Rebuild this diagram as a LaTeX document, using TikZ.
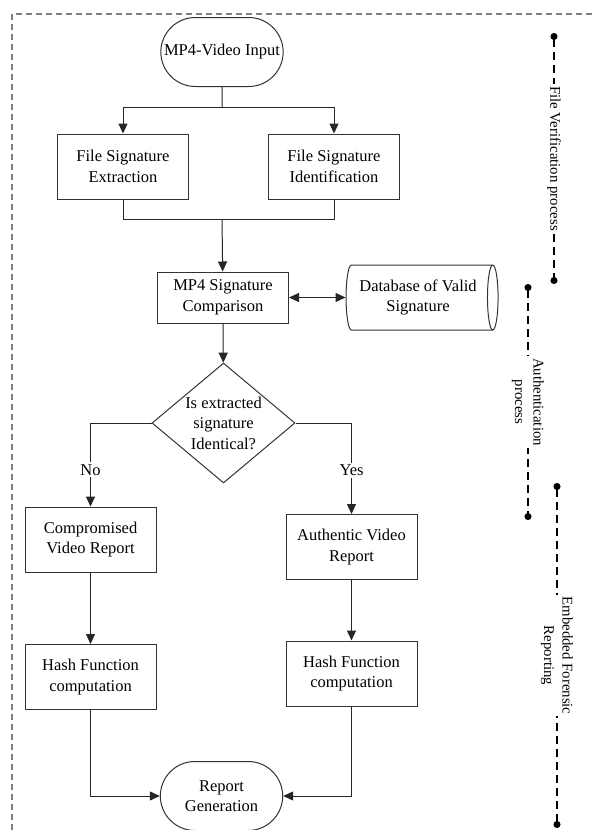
\documentclass[tikz,border=0pt]{standalone}
\usepackage{fontspec}
\setmainfont{Liberation Serif}
\usetikzlibrary{shapes,arrows.meta}

\begin{document}
\begin{tikzpicture}[x=1pt,y=-1pt]
				\tikzset{
					base/.style={draw=black!80, line width=1pt, align=center, font=\fontsize{16.5}{20.5}\selectfont},
					procbox/.style={base, rectangle, minimum width=131, minimum height=65},
					startstop/.style={base, rounded rectangle, minimum width=129, minimum height=69},
					decision/.style={base, diamond, inner sep=-6pt, minimum width=143, minimum height=120},
					datastore/.style={base, cylinder, shape aspect=0.25, minimum height=152, minimum width=65},
					link/.style={draw=black!85, line width=1pt},
					arr/.style={link, -{Triangle[length=10pt,width=9pt]}},
					flowlabel/.style={fill=white, inner sep=2pt, font=\fontsize{16.5}{20.5}\selectfont},
					phase/.style={draw=black, line width=1.2pt, dash pattern=on 8pt off 5pt, {Circle[length=7pt]}-{Circle[length=7pt]}},
					sidelabel/.style={fill=white, inner sep=2pt, rotate=-90, align=center, font=\fontsize{14.8}{18.5}\selectfont},
					frame/.style={draw=black!50, line width=1.3pt, dash pattern=on 6pt off 4pt}
				}
				\useasboundingbox (0,0) rectangle (596,830);
				\draw[frame] (12,830) -- (12,14) -- (596,14);

				\node[startstop] (input) at (222,52) {MP4-Video Input};
				\node[procbox] (extract) at (123,166.5) {File Signature\\Extraction};
				\node[procbox] (ident) at (334,166.5) {File Signature\\Identification};
				\node[procbox, minimum height=51] (compare) at (223,297.5) {MP4 Signature\\Comparison};
				\node[datastore] (db) at (418,297.5) {Database of Valid\\Signature};
				\node[decision] (check) at (223.5,423) {Is extracted\\signature\\Identical?};
				\node[procbox] (badrep) at (90.5,539.5) {Compromised\\Video Report};
				\node[procbox] (goodrep) at (351.5,547) {Authentic Video\\Report};
				\node[procbox] (badhash) at (90.5,677) {Hash Function\\computation};
				\node[procbox] (goodhash) at (351.5,673.5) {Hash Function\\computation};
				\node[startstop] (report) at (221.5,796) {Report\\Generation};

				\coordinate (split) at (222,107);
				\coordinate (merge) at (222,219);
				\draw[link] (input) to[] (split);
				\draw[arr] (split) -| (extract);
				\draw[arr] (split) -| (ident);
				\draw[link] (extract) |- (merge);
				\draw[link] (ident) |- (merge);
				\draw[arr] (merge) to[] (compare);
				\draw[arr, {Triangle[length=10pt,width=9pt]}-{Triangle[length=10pt,width=9pt]}] (compare) to[] (db);
				\draw[arr] (compare) to[] (check);
				\draw[arr] (check.west) -| node[flowlabel, pos=0.78] {No} (badrep);
				\draw[arr] (check.east) -| node[flowlabel, pos=0.76] {Yes} (goodrep);
				\draw[arr] (badrep) to[] (badhash);
				\draw[arr] (goodrep) to[] (goodhash);
				\draw[arr] (badhash) |- (report);
				\draw[arr] (goodhash) |- (report);

				\coordinate (verify top) at (554,33);
				\coordinate (verify end) at (554,284);
				\coordinate (auth top) at (528,284);
				\coordinate (auth end) at (528,520);
				\coordinate (forensic top) at (557,483);
				\coordinate (forensic end) at (557,828);
				\draw[phase] (verify top) -- node[sidelabel] {File Verification process} (verify end);
				\draw[phase] (auth top) -- node[sidelabel] {Authentication\\process} (auth end);
				\draw[phase] (forensic top) -- node[sidelabel] {Embedded Forensic\\Reporting} (forensic end);
			\end{tikzpicture}
\end{document}
